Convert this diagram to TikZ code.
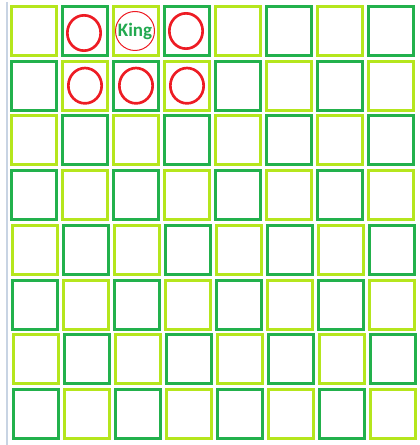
\documentclass[tikz,border=0pt]{standalone}
\usepackage{fontspec}
\setmainfont{Carlito}
\usetikzlibrary{calc, shapes}

\definecolor{boardlime}{HTML}{B5E61D}
\definecolor{boardgreen}{HTML}{22B14C}
\definecolor{pawnred}{HTML}{ED1C24}
\definecolor{kinggreen}{HTML}{22A950}
\definecolor{edgegrey}{HTML}{C8D4E3}

\begin{document}
\begin{tikzpicture}[x=.75pt, y=-.75pt]
    \tikzstyle{lightsquare} = [rectangle, draw=boardlime, line width=2.25pt,
        minimum width=33.75pt, minimum height=36.75pt, inner sep=0pt]
    \tikzstyle{darksquare} = [lightsquare, draw=boardgreen]
    \tikzstyle{pawn} = [ellipse, draw=pawnred, line width=2pt,
        minimum width=25pt, minimum height=26.5pt, inner sep=0pt]
    \tikzstyle{king} = [circle, draw=pawnred, line width=.75pt,
        minimum size=29.25pt, inner sep=0pt, text=kinggreen,
        font=\bfseries\fontsize{14.25}{16}\selectfont]

    \useasboundingbox (0, 0) rectangle (420, 445);

    % Edge ----------------------------------------------
    \coordinate (edgetop) at (7, 2);
    \coordinate (edgebottom) at (7, 445);
    \draw [edgegrey, line width=1.5pt] (edgetop) -- (edgebottom);

    % Board ---------------------------------------------
    \node (a8) at (34, 31) [lightsquare] {};
    \node (b8) at ($(a8) + (51, 0)$) [darksquare] {};
    \node (c8) at ($(b8) + (51, 0)$) [lightsquare] {};
    \node (d8) at ($(c8) + (51, 0)$) [darksquare] {};
    \node (e8) at ($(d8) + (51, 0)$) [lightsquare] {};
    \node (f8) at ($(e8) + (51, 0)$) [darksquare] {};
    \node (g8) at ($(f8) + (51, 0)$) [lightsquare] {};
    \node (h8) at ($(g8) + (51, 0)$) [darksquare] {};

    \node (a7) at ($(a8) + (0, 54.7)$) [darksquare] {};
    \node (b7) at ($(a7) + (51, 0)$) [lightsquare] {};
    \node (c7) at ($(b7) + (51, 0)$) [darksquare] {};
    \node (d7) at ($(c7) + (51, 0)$) [lightsquare] {};
    \node (e7) at ($(d7) + (51, 0)$) [darksquare] {};
    \node (f7) at ($(e7) + (51, 0)$) [lightsquare] {};
    \node (g7) at ($(f7) + (51, 0)$) [darksquare] {};
    \node (h7) at ($(g7) + (51, 0)$) [lightsquare] {};

    \node (a6) at ($(a7) + (0, 54.7)$) [lightsquare] {};
    \node (b6) at ($(a6) + (51, 0)$) [darksquare] {};
    \node (c6) at ($(b6) + (51, 0)$) [lightsquare] {};
    \node (d6) at ($(c6) + (51, 0)$) [darksquare] {};
    \node (e6) at ($(d6) + (51, 0)$) [lightsquare] {};
    \node (f6) at ($(e6) + (51, 0)$) [darksquare] {};
    \node (g6) at ($(f6) + (51, 0)$) [lightsquare] {};
    \node (h6) at ($(g6) + (51, 0)$) [darksquare] {};

    \node (a5) at ($(a6) + (0, 54.7)$) [darksquare] {};
    \node (b5) at ($(a5) + (51, 0)$) [lightsquare] {};
    \node (c5) at ($(b5) + (51, 0)$) [darksquare] {};
    \node (d5) at ($(c5) + (51, 0)$) [lightsquare] {};
    \node (e5) at ($(d5) + (51, 0)$) [darksquare] {};
    \node (f5) at ($(e5) + (51, 0)$) [lightsquare] {};
    \node (g5) at ($(f5) + (51, 0)$) [darksquare] {};
    \node (h5) at ($(g5) + (51, 0)$) [lightsquare] {};

    \node (a4) at ($(a5) + (.5, 54.7)$) [lightsquare] {};
    \node (b4) at ($(a4) + (51, 0)$) [darksquare] {};
    \node (c4) at ($(b4) + (51, 0)$) [lightsquare] {};
    \node (d4) at ($(c4) + (51, 0)$) [darksquare] {};
    \node (e4) at ($(d4) + (51, 0)$) [lightsquare] {};
    \node (f4) at ($(e4) + (51, 0)$) [darksquare] {};
    \node (g4) at ($(f4) + (51, 0)$) [lightsquare] {};
    \node (h4) at ($(g4) + (51, 0)$) [darksquare] {};

    \node (a3) at ($(a4) + (.5, 54.7)$) [darksquare] {};
    \node (b3) at ($(a3) + (51, 0)$) [lightsquare] {};
    \node (c3) at ($(b3) + (51, 0)$) [darksquare] {};
    \node (d3) at ($(c3) + (51, 0)$) [lightsquare] {};
    \node (e3) at ($(d3) + (51, 0)$) [darksquare] {};
    \node (f3) at ($(e3) + (51, 0)$) [lightsquare] {};
    \node (g3) at ($(f3) + (51, 0)$) [darksquare] {};
    \node (h3) at ($(g3) + (51, 0)$) [lightsquare] {};

    \node (a2) at ($(a3) + (.5, 54.7)$) [lightsquare] {};
    \node (b2) at ($(a2) + (51, 0)$) [darksquare] {};
    \node (c2) at ($(b2) + (51, 0)$) [lightsquare] {};
    \node (d2) at ($(c2) + (51, 0)$) [darksquare] {};
    \node (e2) at ($(d2) + (51, 0)$) [lightsquare] {};
    \node (f2) at ($(e2) + (51, 0)$) [darksquare] {};
    \node (g2) at ($(f2) + (51, 0)$) [lightsquare] {};
    \node (h2) at ($(g2) + (51, 0)$) [darksquare] {};

    \node (a1) at ($(a2) + (.5, 54.7)$) [darksquare] {};
    \node (b1) at ($(a1) + (51, 0)$) [lightsquare] {};
    \node (c1) at ($(b1) + (51, 0)$) [darksquare] {};
    \node (d1) at ($(c1) + (51, 0)$) [lightsquare] {};
    \node (e1) at ($(d1) + (51, 0)$) [darksquare] {};
    \node (f1) at ($(e1) + (51, 0)$) [lightsquare] {};
    \node (g1) at ($(f1) + (51, 0)$) [darksquare] {};
    \node (h1) at ($(g1) + (51, 0)$) [lightsquare] {};
    % ---------------------------------------------------

    % Pieces
    \node (king) at ($(c8) + (-1, 0)$) [king] {King};
    \node (pawnb8) at ($(b8) + (-1, 2)$) [pawn] {};
    \node (pawnd8) at ($(d8) + (-1, 0)$) [pawn] {};
    \node (pawnb7) at (b7) [pawn] {};
    \node (pawnc7) at (c7) [pawn] {};
    \node (pawnd7) at (d7) [pawn] {};
\end{tikzpicture}
\end{document}
